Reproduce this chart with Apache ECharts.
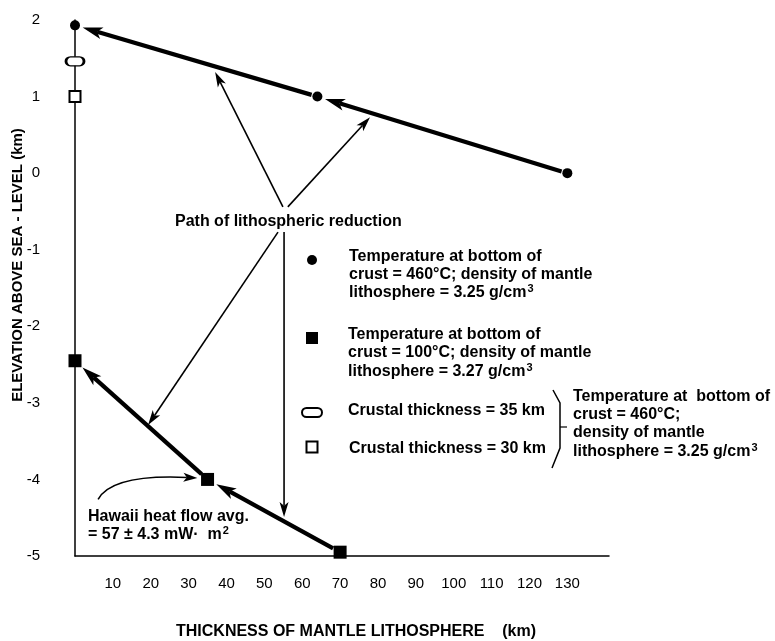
<!DOCTYPE html>
<html>
<head>
<meta charset="utf-8">
<title>Elevation vs. thickness of mantle lithosphere</title>
<script src="https://cdn.jsdelivr.net/npm/echarts@6/dist/echarts.min.js"></script>
<style>
  html, body { margin: 0; padding: 0; background: #fff; }
  #chart { width: 775px; height: 641px; }
</style>
</head>
<body>
<div id="chart"></div>
<script>
// Model results: elevation (km) against thickness of mantle lithosphere (km)
// Hot crust base (460 °C), mantle lithosphere density 3.25 g/cm3
const hotThickness = [0, 64, 130];
const hotElevation = [1.93, 1.0, 0.0];
// Cold crust base (100 °C), mantle lithosphere density 3.27 g/cm3
const coldThickness = [0, 35, 70];
const coldElevation = [-2.45, -4.0, -4.95];
// Fully removed mantle lithosphere, different crustal thicknesses
const crust35Thickness = [0];
const crust35Elevation = [1.46];
const crust30Thickness = [0];
const crust30Elevation = [1.0];

// Axis ticks
const xTickStep = 10;
const xTickLabels = [10, 20, 30, 40, 50, 60, 70, 80, 90, 100, 110, 120, 130];
const yTickStep = 1;

const FONT = '"Liberation Sans", Arial, Helvetica, sans-serif';

// Pointer arrows from the "Path of lithospheric reduction" note (axis units)
const pathPointers = [
  [54.9, -0.44, 37.0, 1.32],
  [56.2, -0.44, 77.9, 0.73],
  [53.6, -0.77, 19.3, -3.29],
  [55.2, -0.77, 55.2, -4.49]
];
// Curved pointer from the Hawaii heat-flow note: start, control, end
const hawaiiPointer = [[6.1, -4.26, 9.8, -3.93, 32.3, -3.98]];

// Consecutive segments of a path, walked from the thickest lithosphere down
function reductionSegments(xs, ys) {
  const segs = [];
  for (let i = xs.length - 1; i > 0; i--) {
    segs.push([xs[i], ys[i], xs[i - 1], ys[i - 1]]);
  }
  return segs;
}

function arrowShapes(a, b, o) {
  const dx = b[0] - a[0], dy = b[1] - a[1];
  const len = Math.hypot(dx, dy) || 1;
  const ux = dx / len, uy = dy / len, nx = -uy, ny = ux;
  const s = [a[0] + ux * o.gapStart, a[1] + uy * o.gapStart];
  const t = [b[0] - ux * o.gapEnd, b[1] - uy * o.gapEnd];
  const base = [t[0] - ux * o.headLen, t[1] - uy * o.headLen];
  const notch = [base[0] + ux * o.headLen * 0.25, base[1] + uy * o.headLen * 0.25];
  return [
    { type: 'line', shape: { x1: s[0], y1: s[1], x2: notch[0], y2: notch[1] },
      style: { stroke: '#000', lineWidth: o.width, lineCap: 'butt' } },
    { type: 'polygon', shape: { points: [
        t,
        [base[0] + nx * o.headHalf, base[1] + ny * o.headHalf],
        notch,
        [base[0] - nx * o.headHalf, base[1] - ny * o.headHalf]
      ] }, style: { fill: '#000' } }
  ];
}

function arrowRenderer(o) {
  return function (params, api) {
    const a = api.coord([api.value(0), api.value(1)]);
    const b = api.coord([api.value(2), api.value(3)]);
    return { type: 'group', children: arrowShapes(a, b, o) };
  };
}

function curvedArrowRenderer(params, api) {
  const p0 = api.coord([api.value(0), api.value(1)]);
  const c = api.coord([api.value(2), api.value(3)]);
  const p2 = api.coord([api.value(4), api.value(5)]);
  const dx = p2[0] - c[0], dy = p2[1] - c[1];
  const len = Math.hypot(dx, dy) || 1;
  const ux = dx / len, uy = dy / len, nx = -uy, ny = ux;
  const headLen = 14, headHalf = 4.5;
  const base = [p2[0] - ux * headLen, p2[1] - uy * headLen];
  const notch = [base[0] + ux * headLen * 0.25, base[1] + uy * headLen * 0.25];
  return {
    type: 'group',
    children: [
      { type: 'bezierCurve', shape: { x1: p0[0], y1: p0[1], cpx1: c[0], cpy1: c[1], x2: notch[0], y2: notch[1] },
        style: { stroke: '#000', lineWidth: 1.6, fill: null } },
      { type: 'polygon', shape: { points: [p2,
          [base[0] + nx * headHalf, base[1] + ny * headHalf], notch,
          [base[0] - nx * headHalf, base[1] - ny * headHalf]] },
        style: { fill: '#000' } }
    ]
  };
}

function zip(xs, ys) { return xs.map((x, i) => [x, ys[i]]); }

const boldText = { fill: '#000', font: 'bold 16px ' + FONT, textVerticalAlign: 'middle' };
const supRich = { sup: { fontSize: 11, fontWeight: 'bold', fontFamily: FONT, verticalAlign: 'top', padding: [0, 0, 8, 1] } };

function label(x, y, text, extra) {
  return { type: 'text', x: x, y: y, silent: true,
    style: Object.assign({ text: text, rich: supRich }, boldText, extra || {}) };
}

const stadium = 'path://M5,0 L15,0 A5,5 0 0 1 15,10 L5,10 A5,5 0 0 1 5,0 Z';

const chart = echarts.init(document.getElementById('chart'), null, { renderer: 'canvas' });

chart.setOption({
  backgroundColor: '#fff',
  animation: false,
  grid: { left: 75, right: 166, top: 20, bottom: 85, containLabel: false, outerBoundsMode: 'none' },
  xAxis: {
    type: 'value', min: 0, max: 141, interval: xTickStep,
    axisLine: { show: true, onZero: false, lineStyle: { color: '#000', width: 1.5 } },
    axisTick: { show: false },
    splitLine: { show: false },
    axisLabel: {
      color: '#000', fontSize: 15, fontFamily: FONT, margin: 20,
      showMinLabel: true, showMaxLabel: true,
      formatter: v => (xTickLabels.indexOf(v) >= 0 ? String(v) : '')
    }
  },
  yAxis: {
    type: 'value', min: -5, max: 2, interval: yTickStep,
    axisLine: { show: true, onZero: false, lineStyle: { color: '#000', width: 1.5 } },
    axisTick: { show: false },
    splitLine: { show: false },
    axisLabel: { color: '#000', fontSize: 15, fontFamily: FONT, margin: 35 }
  },
  series: [
    { type: 'custom', name: 'hot path', renderItem: arrowRenderer({ gapStart: 6, gapEnd: 8, headLen: 20, headHalf: 6, width: 4.2 }),
      encode: { x: [0, 2], y: [1, 3] }, data: reductionSegments(hotThickness, hotElevation), z: 2, silent: true },
    { type: 'custom', name: 'cold path', renderItem: arrowRenderer({ gapStart: 8, gapEnd: 10, headLen: 20, headHalf: 6, width: 4.2 }),
      encode: { x: [0, 2], y: [1, 3] }, data: reductionSegments(coldThickness, coldElevation), z: 2, silent: true },
    { type: 'custom', name: 'pointers', renderItem: arrowRenderer({ gapStart: 0, gapEnd: 0, headLen: 15, headHalf: 4.5, width: 1.6 }),
      encode: { x: [0, 2], y: [1, 3] }, data: pathPointers, z: 2, silent: true },
    { type: 'custom', name: 'hawaii pointer', renderItem: curvedArrowRenderer,
      encode: { x: [0, 2, 4], y: [1, 3, 5] }, data: hawaiiPointer, z: 2, silent: true },
    { type: 'scatter', name: '460 °C, 3.25', symbol: 'circle', symbolSize: 10,
      itemStyle: { color: '#000', opacity: 1 }, data: zip(hotThickness, hotElevation), z: 5 },
    { type: 'scatter', name: '100 °C, 3.27', symbol: 'rect', symbolSize: 13,
      itemStyle: { color: '#000', opacity: 1 }, data: zip(coldThickness, coldElevation), z: 5 },
    { type: 'scatter', name: 'crust 35 km', symbol: stadium, symbolSize: [18, 9],
      itemStyle: { color: '#fff', borderColor: '#000', borderWidth: 2, opacity: 1 }, data: zip(crust35Thickness, crust35Elevation), z: 5 },
    { type: 'scatter', name: 'crust 30 km', symbol: 'rect', symbolSize: 11,
      itemStyle: { color: '#fff', borderColor: '#000', borderWidth: 2, opacity: 1 }, data: zip(crust30Thickness, crust30Elevation), z: 5 }
  ],
  graphic: [
    // axis titles
    { type: 'text', x: 18, y: 265, rotation: Math.PI / 2, silent: true,
      style: { text: 'ELEVATION ABOVE SEA - LEVEL (km)', fill: '#000', font: 'bold 15px ' + FONT,
               textAlign: 'center', textVerticalAlign: 'middle' } },
    { type: 'text', x: 356, y: 632, silent: true,
      style: { text: 'THICKNESS OF MANTLE LITHOSPHERE    (km)', fill: '#000', font: 'bold 16px ' + FONT,
               textAlign: 'center', textVerticalAlign: 'middle' } },

    // note for the pointer arrows
    label(175, 222, 'Path of lithospheric reduction'),

    // key symbols
    { type: 'circle', shape: { cx: 312, cy: 260, r: 5 }, style: { fill: '#000' }, silent: true },
    { type: 'rect', shape: { x: 306, y: 332, width: 12, height: 12 }, style: { fill: '#000' }, silent: true },
    { type: 'rect', shape: { x: 302, y: 408, width: 20, height: 9, r: 4.5 }, style: { fill: '#fff', stroke: '#000', lineWidth: 2 }, silent: true },
    { type: 'rect', shape: { x: 306.5, y: 441.5, width: 11, height: 11 }, style: { fill: '#fff', stroke: '#000', lineWidth: 2 }, silent: true },

    // key text
    label(349, 257, 'Temperature at bottom of'),
    label(349, 275, 'crust = 460°C; density of mantle'),
    label(349, 293, 'lithosphere = 3.25 g/cm{sup|3}'),
    label(348, 335, 'Temperature at bottom of'),
    label(348, 353, 'crust = 100°C; density of mantle'),
    label(348, 372, 'lithosphere = 3.27 g/cm{sup|3}'),
    label(348, 411, 'Crustal thickness = 35 km'),
    label(349, 449, 'Crustal thickness = 30 km'),

    // brace grouping the two crustal-thickness entries
    { type: 'polyline', silent: true,
      shape: { points: [[553, 390], [560, 403], [560, 448], [552, 468]] },
      style: { stroke: '#000', lineWidth: 1.5, fill: null } },
    { type: 'line', silent: true, shape: { x1: 560, y1: 427, x2: 567, y2: 427 },
      style: { stroke: '#000', lineWidth: 1.2 } },
    label(573, 397, 'Temperature at  bottom of'),
    label(573, 415, 'crust = 460°C;'),
    label(573, 433, 'density of mantle'),
    label(573, 452, 'lithosphere = 3.25 g/cm{sup|3}'),

    // Hawaii note
    label(88, 517, 'Hawaii heat flow avg.'),
    label(88, 535, '= 57 ± 4.3 mW·  m{sup|2}')
  ]
});
</script>
</body>
</html>
